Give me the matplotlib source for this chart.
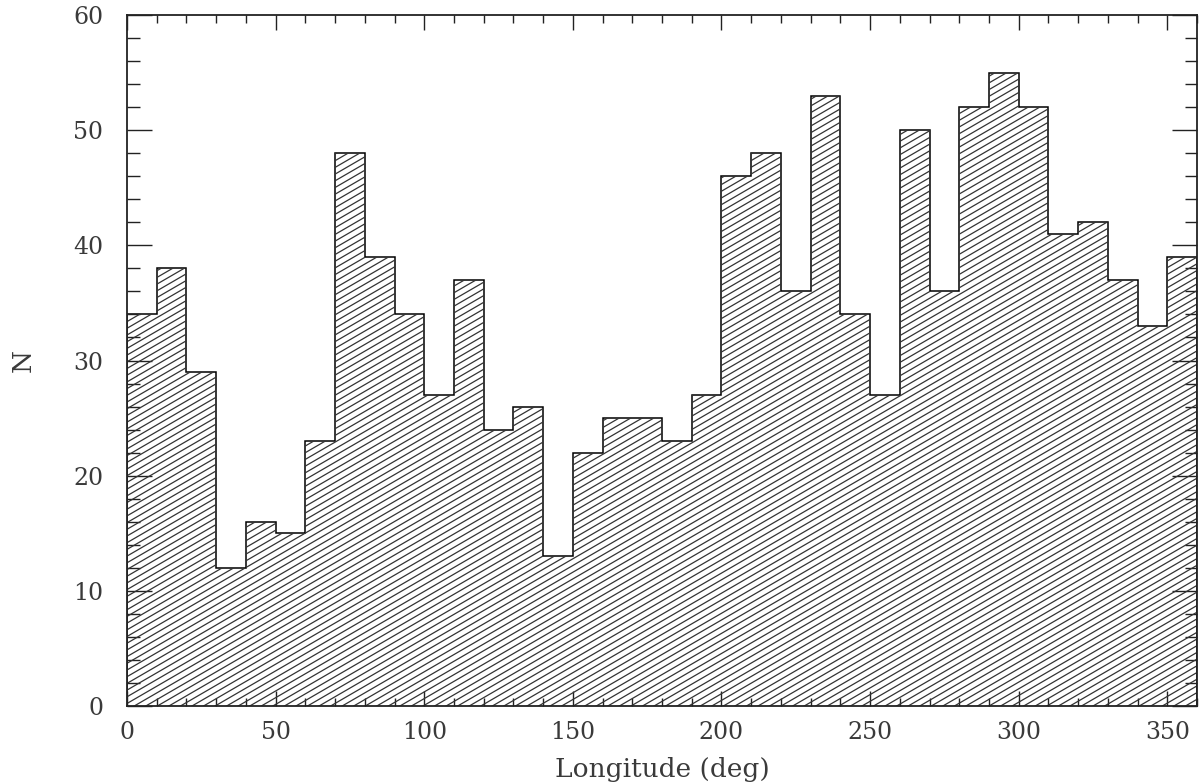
import numpy as np
import matplotlib
matplotlib.use("Agg")
import matplotlib.pyplot as plt
from matplotlib.collections import LineCollection
from matplotlib.ticker import MultipleLocator

# longitude bins (deg) and counts per bin
bin_edges = list(range(0, 370, 10))
counts = [34, 38, 29, 12, 16, 15, 23, 48, 39, 34, 27, 37, 24, 26, 13, 22, 25, 25,
          23, 27, 46, 48, 36, 53, 34, 27, 50, 36, 52, 55, 52, 41, 42, 37, 33, 39]
x_ticks = [0, 50, 100, 150, 200, 250, 300, 350]
y_ticks = [0, 10, 20, 30, 40, 50, 60]

ink = "#222222"
text_ink = "#3a3a3a"
plt.rcParams["font.family"] = ["DejaVu Serif"]

fig = plt.figure(figsize=(12, 7.82), dpi=100)
ax = fig.add_axes([127 / 1200, 1 - 706 / 782, 1070 / 1200, 691 / 782])

# outline of the histogram plus an invisible filled copy used as clip region
ax.stairs(counts, bin_edges, fill=False, color="black", lw=1.1, baseline=0)
clip = ax.stairs(counts, bin_edges, fill=True, facecolor="none", edgecolor="none", baseline=0)

# slanted hatching, drawn in pixel space so the angle is fixed
w_px = fig.get_figwidth() * fig.dpi * ax.get_position().width
h_px = fig.get_figheight() * fig.dpi * ax.get_position().height
slope = 0.58
step = 6.7
segs = []
for c in np.arange(-slope * w_px, h_px + step, step):
    segs.append([(0, c / h_px), (1, (c + slope * w_px) / h_px)])
hatch = LineCollection(segs, colors="#333333", linewidths=0.9, transform=ax.transAxes)
ax.add_collection(hatch)
hatch.set_clip_path(clip)

ax.set_xlim(0, 360)
ax.set_ylim(0, 60)
ax.set_xticks(x_ticks)
ax.set_yticks(y_ticks)
ax.xaxis.set_minor_locator(MultipleLocator(10))
ax.yaxis.set_minor_locator(MultipleLocator(2))

ax.tick_params(which="both", direction="in", top=True, right=True, color=ink, width=1)
ax.tick_params(axis="x", which="major", length=11, pad=11, labelsize=17, labelcolor=text_ink)
ax.tick_params(axis="x", which="minor", length=5.5)
ax.tick_params(axis="y", which="major", length=18, pad=17, labelsize=17, labelcolor=text_ink)
ax.tick_params(axis="y", which="minor", length=9)
for s in ax.spines.values():
    s.set_linewidth(1.3)
    s.set_color(ink)

ax.set_xlabel("Longitude (deg)", fontsize=19, color=text_ink, labelpad=9)
ax.set_ylabel("N", fontsize=19, color=text_ink, labelpad=27)

fig.savefig("out.png", dpi=100)
